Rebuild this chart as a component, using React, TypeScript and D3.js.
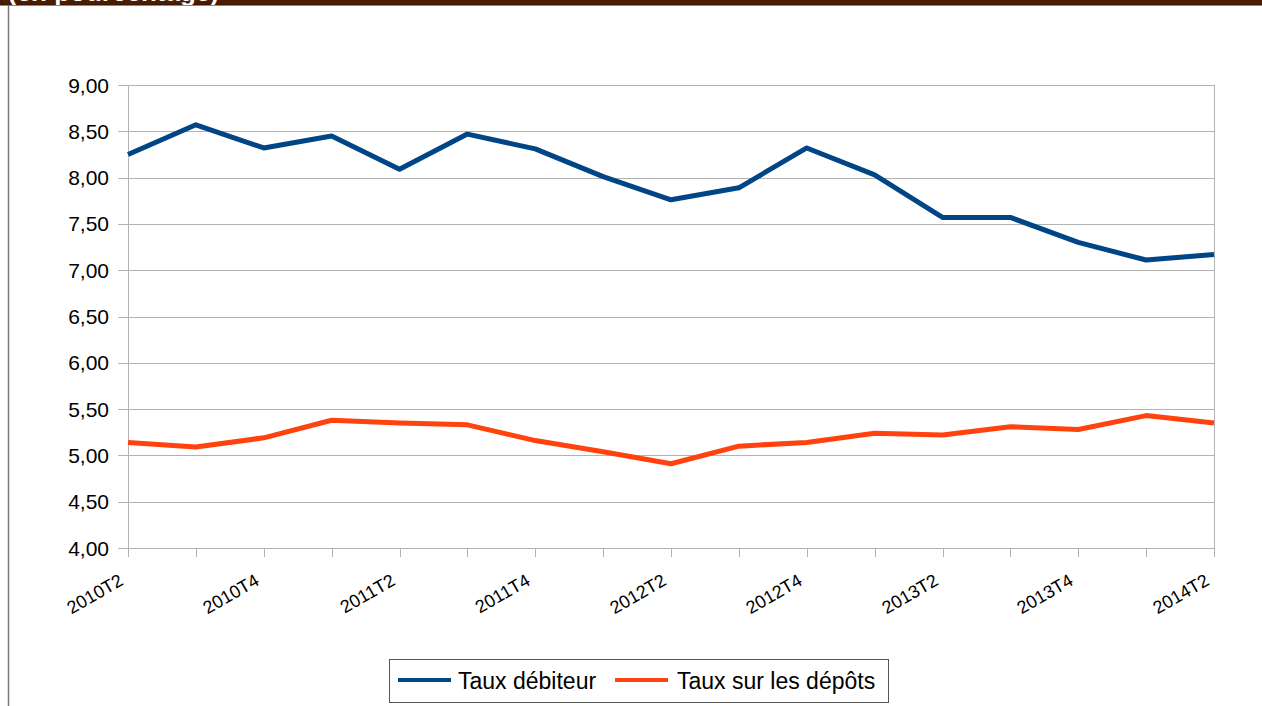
import React from "react";
import * as d3 from "d3";

// Quarters, 2010T2 .. 2014T2
const quarters = [
  "2010T2", "2010T3", "2010T4", "2011T1", "2011T2", "2011T3", "2011T4",
  "2012T1", "2012T2", "2012T3", "2012T4", "2013T1", "2013T2", "2013T3",
  "2013T4", "2014T1", "2014T2",
];

// Taux débiteur
const lendingRate = [
  8.25, 8.57, 8.32, 8.45, 8.09, 8.47, 8.31, 8.01, 7.76, 7.89, 8.32, 8.03,
  7.57, 7.57, 7.3, 7.11, 7.17,
];

// Taux sur les dépôts
const depositRate = [
  5.14, 5.09, 5.19, 5.38, 5.35, 5.33, 5.16, 5.04, 4.91, 5.1, 5.14, 5.24,
  5.22, 5.31, 5.28, 5.43, 5.35,
];

const yTicks = [4, 4.5, 5, 5.5, 6, 6.5, 7, 7.5, 8, 8.5, 9];

const seriesNames = ["Taux débiteur", "Taux sur les dépôts"];
const colors = ["#004586", "#ff420e"];

const App = () => {
  const width = 1262;
  const height = 706;
  const plot = { left: 128, right: 1214, top: 85, bottom: 548 };

  // scales
  const x = d3
    .scalePoint<string>()
    .domain(quarters)
    .range([plot.left, plot.right]);
  const y = d3.scaleLinear().domain([4, 9]).range([plot.bottom, plot.top]);

  const line = d3
    .line<number>()
    .x((_, i) => x(quarters[i]) as number)
    .y((d) => y(d));

  const fmt = (v: number) => v.toFixed(2).replace(".", ",");
  const font = "'Liberation Sans', Arial, sans-serif";

  return (
    <svg
      width={width}
      height={height}
      style={{ position: "absolute", left: 0, top: 0, background: "#fff" }}
      fontFamily={font}
    >
      {/* header band, its title is cut off above the chart */}
      <rect x={0} y={0} width={1262} height={5} fill="#4b1c00" />
      <line x1={0} x2={1262} y1={5} y2={5} stroke="#2e1000" strokeWidth={1} />
      <clipPath id="band">
        <rect x={0} y={0} width={1262} height={5} />
      </clipPath>
      <text
        x={8}
        y={0.5}
        fontSize={26}
        fontWeight="bold"
        fill="#fff"
        clipPath="url(#band)"
      >
        (en pourcentage)
      </text>
      {/* left frame */}
      <line x1={8.5} x2={8.5} y1={5} y2={706} stroke="#7a7a7a" strokeWidth={1.5} />

      {/* grid */}
      {yTicks.map((t) => (
        <g key={t}>
          <line
            x1={plot.left - 10}
            x2={plot.right}
            y1={Math.round(y(t)) + 0.5}
            y2={Math.round(y(t)) + 0.5}
            stroke="#b3b3b3"
            strokeWidth={1}
          />
          <text
            x={109}
            y={y(t) + 7.5}
            textAnchor="end"
            fontSize={21}
            fill="#000"
          >
            {fmt(t)}
          </text>
        </g>
      ))}
      <line
        x1={plot.left + 0.5}
        x2={plot.left + 0.5}
        y1={plot.top}
        y2={plot.bottom}
        stroke="#b3b3b3"
      />
      <line
        x1={plot.right + 0.5}
        x2={plot.right + 0.5}
        y1={plot.top}
        y2={plot.bottom}
        stroke="#b3b3b3"
      />

      {/* x ticks and labels */}
      {quarters.map((q, i) => {
        const px = Math.round(x(q) as number) + 0.5;
        return (
          <g key={q}>
            <line
              x1={px}
              x2={px}
              y1={plot.bottom}
              y2={plot.bottom + 9}
              stroke="#b3b3b3"
            />
            {i % 2 === 0 && (
              <text
                transform={`translate(${px - 4},${plot.bottom + 36}) rotate(-30)`}
                textAnchor="end"
                fontSize={18}
                fill="#000"
              >
                {q}
              </text>
            )}
          </g>
        );
      })}

      {/* series */}
      {[lendingRate, depositRate].map((s, i) => (
        <path
          key={i}
          d={line(s) as string}
          fill="none"
          stroke={colors[i]}
          strokeWidth={5}
          strokeLinejoin="round"
        />
      ))}

      {/* legend */}
      <rect
        x={389.5}
        y={659.5}
        width={499}
        height={43}
        fill="#fff"
        stroke="#555"
        strokeWidth={1}
      />
      <line x1={398} x2={451} y1={680} y2={680} stroke={colors[0]} strokeWidth={4} />
      <text x={458} y={689} fontSize={23} fill="#000">
        {seriesNames[0]}
      </text>
      <line x1={615} x2={668} y1={680} y2={680} stroke={colors[1]} strokeWidth={4} />
      <text x={677} y={689} fontSize={23} fill="#000">
        {seriesNames[1]}
      </text>
    </svg>
  );
};

export default App;
